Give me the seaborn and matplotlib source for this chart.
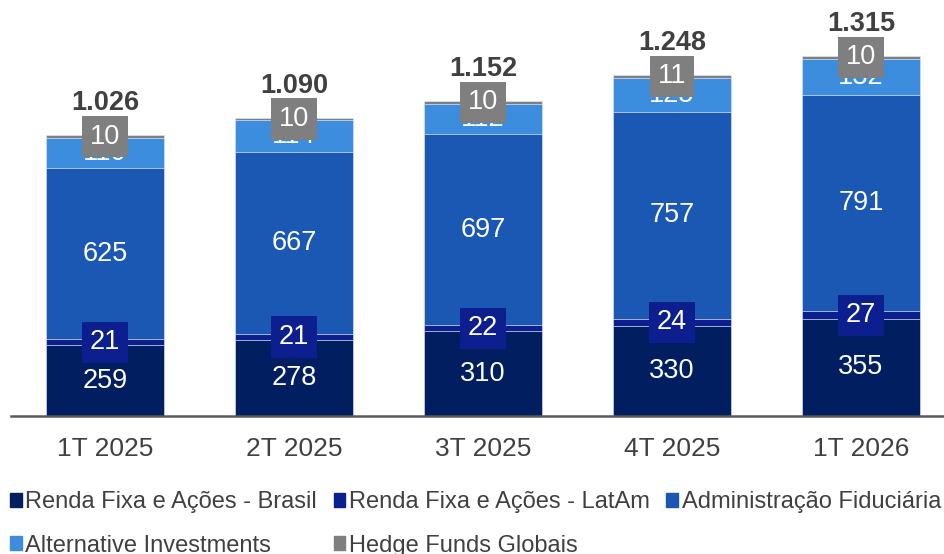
import numpy as np
import pandas as pd
import seaborn as sns
import matplotlib
matplotlib.use("Agg")
import matplotlib.pyplot as plt
from matplotlib.patches import Patch

categories = ["1T 2025", "2T 2025", "3T 2025", "4T 2025", "1T 2026"]
brasil = [259, 278, 310, 330, 355]
latam = [21, 21, 22, 24, 27]
fiduciaria = [625, 667, 697, 757, 791]
alternative = [110, 114, 112, 125, 132]
hedge = [10, 10, 10, 11, 10]
totals = [1026, 1090, 1152, 1248, 1315]

series_names = ["Renda Fixa e Ações - Brasil", "Renda Fixa e Ações - LatAm",
                "Administração Fiduciária", "Alternative Investments",
                "Hedge Funds Globais"]
series_values = [brasil, latam, fiduciaria, alternative, hedge]
colors = ["#001E60", "#0D1E8E", "#1A58B4", "#3C8DDE", "#7F7F7F"]

sns.set_theme(style="white")
plt.rcParams["font.family"] = ["Liberation Sans", "DejaVu Sans"]

fig = plt.figure(figsize=(9.45, 5.54), dpi=100)
ax = fig.add_axes([10.5 / 945, 1 - 416 / 554, 945 / 945, 416 / 554])

cum = np.zeros(len(categories))
cums = []
for vals in series_values:
    cum = cum + np.array(vals)
    cums.append(cum.copy())

# draw cumulative bars from the top layer down
for i in range(len(series_values) - 1, -1, -1):
    d = pd.DataFrame({"cat": categories, "v": cums[i]})
    sns.barplot(data=d, x="cat", y="v", color=colors[i], saturation=1,
                width=0.62, edgecolor="#DDE6F2", linewidth=0.5, ax=ax)

ax.set_xlim(-0.5, 4.5)
scale = 360 / 1315
ax.set_ylim(0, 416 / scale)

# labels
for j in range(len(categories)):
    bottom = 0
    for i, vals in enumerate(series_values):
        v = vals[j]
        yc = bottom + v / 2
        if i in (1, 4):
            ax.text(j, yc, str(v), ha="center", va="center", color="white",
                    fontsize=19.5,
                    bbox=dict(boxstyle="square,pad=0.28", fc=colors[i], ec="none"))
        else:
            ax.text(j, yc, str(v), ha="center", va="center", color="white",
                    fontsize=19.5)
        bottom += v
    ax.annotate(f"{totals[j]:,}".replace(",", "."), (j, bottom),
                xytext=(0, 23), textcoords="offset points", ha="center",
                va="center", fontsize=19.5, fontweight="bold", color="#404040")

ax.set_xlabel("")
ax.set_ylabel("")
ax.set_yticks([])
for s in ["top", "right", "left"]:
    ax.spines[s].set_visible(False)
ax.spines["bottom"].set_color("#595959")
ax.spines["bottom"].set_linewidth(1.8)
ax.tick_params(axis="x", length=0, pad=15, labelsize=19, labelcolor="#404040")

handles = [Patch(color=c) for c in colors]
order = [0, 3, 1, 4, 2]
fig.legend([handles[k] for k in order], [series_names[k] for k in order],
           ncol=3, loc="lower left", bbox_to_anchor=(-0.012, -0.043),
           frameon=False, fontsize=17, handlelength=0.5, handleheight=0.5,
           handletextpad=0.15, columnspacing=0.7, labelspacing=0.9,
           labelcolor="#404040")

fig.savefig("out.png", dpi=100)
